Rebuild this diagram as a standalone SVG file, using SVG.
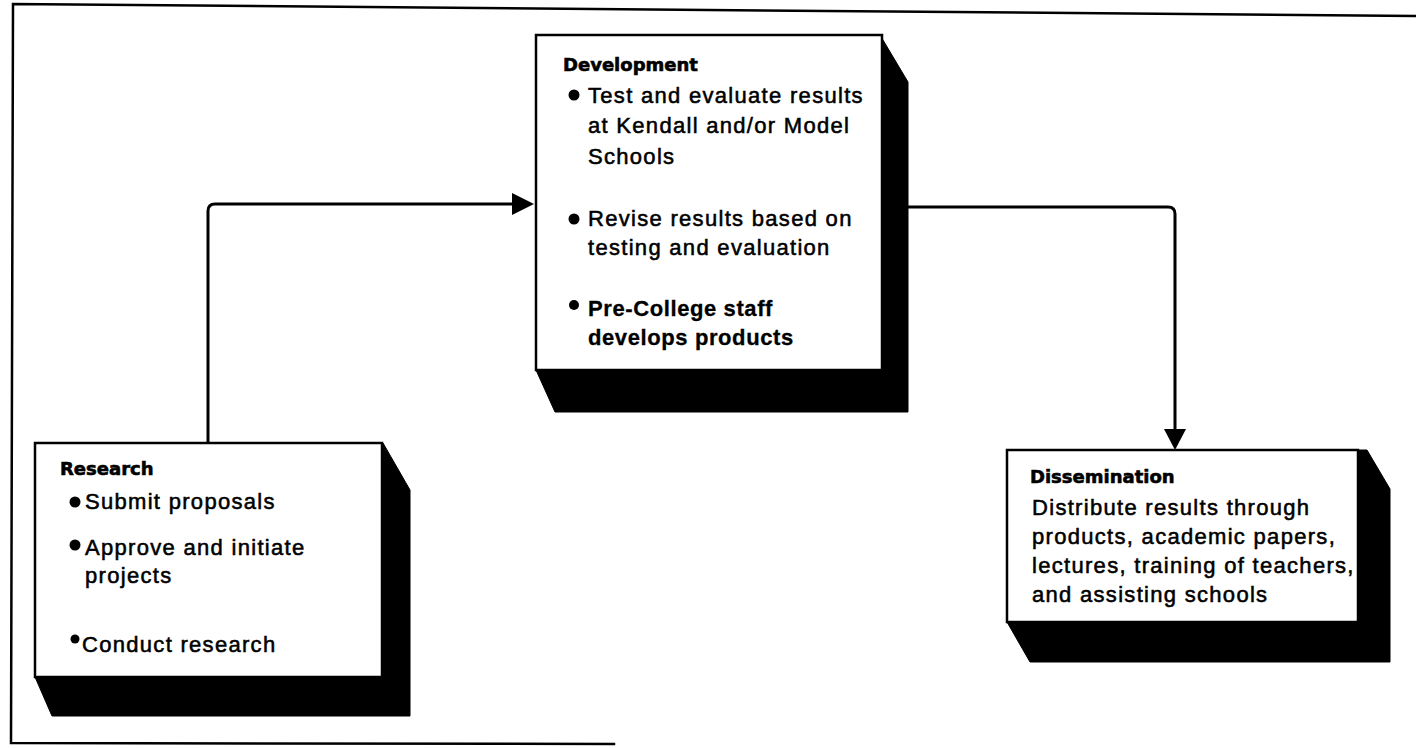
<svg xmlns="http://www.w3.org/2000/svg" width="1416" height="748" viewBox="0 0 1416 748">
  <defs>
    <style>
      .frame { fill: none; stroke: #000; stroke-width: 2.5; stroke-linecap: square; }
      .face { fill: #fff; stroke: #000; stroke-width: 2.5; }
      .side { fill: #000; stroke: #000; stroke-width: 1; stroke-linejoin: round; }
      .wire { fill: none; stroke: #000; stroke-width: 3; }
      .head { fill: #000; }
      .title { font-family: "DejaVu Sans", "Liberation Sans", sans-serif; font-weight: bold; font-size: 18px; fill: #000; stroke: #000; stroke-width: 0.6; }
      .body { font-family: "Liberation Sans", Arial, sans-serif; font-size: 22px; letter-spacing: 1.3px; fill: #000; stroke: #000; stroke-width: 0.55; }
      .bold { font-weight: bold; stroke-width: 0.3; letter-spacing: 0.6px; }
      .dot { fill: #000; }
    </style>
  </defs>

  <rect width="1416" height="748" fill="#fff"/>

  <!-- outer frame (open on the lower right) -->
  <path class="frame" d="M1416,16 L13,4 L11,743 L614,744"/>

  <!-- connectors -->
  <g id="connectors">
    <path class="wire" d="M208,443 V211 Q208,204 215,204 H515"/>
    <polygon class="head" points="512,193 534,204 512,215"/>
    <path class="wire" d="M908,207 H1168 Q1175,207 1175,214 V432"/>
    <polygon class="head" points="1164,429 1175,450 1186,429"/>
  </g>

  <!-- Development -->
  <g id="development">
    <polygon class="side" points="880,35 908,82 908,412 555,412 536,370"/>
    <rect class="face" x="536" y="35" width="346" height="335"/>
    <text class="title" x="563" y="71">Development</text>
    <circle class="dot" cx="574" cy="95" r="5.5"/>
    <text class="body" x="588" y="103">Test and evaluate results</text>
    <text class="body" x="588" y="133">at Kendall and/or Model</text>
    <text class="body" x="588" y="164">Schools</text>
    <circle class="dot" cx="574" cy="219" r="5.5"/>
    <text class="body" x="588" y="226">Revise results based on</text>
    <text class="body" x="588" y="255">testing and evaluation</text>
    <circle class="dot" cx="574" cy="305" r="5"/>
    <text class="body bold" x="588" y="316">Pre-College staff</text>
    <text class="body bold" x="588" y="345">develops products</text>
  </g>

  <!-- Research -->
  <g id="research">
    <polygon class="side" points="383,443 410,490 410,716 52,716 35,677"/>
    <rect class="face" x="35" y="443" width="347" height="234"/>
    <text class="title" x="60" y="475">Research</text>
    <circle class="dot" cx="75" cy="502" r="5.5"/>
    <text class="body" x="85" y="509">Submit proposals</text>
    <circle class="dot" cx="75" cy="545" r="5.5"/>
    <text class="body" x="85" y="555">Approve and initiate</text>
    <text class="body" x="85" y="583">projects</text>
    <circle class="dot" cx="75" cy="639" r="4.5"/>
    <text class="body" x="82" y="652">Conduct research</text>
  </g>

  <!-- Dissemination -->
  <g id="dissemination">
    <polygon class="side" points="1358,450 1367,450 1390,489 1390,662 1030,662 1007,622"/>
    <rect class="face" x="1007" y="450" width="351" height="172"/>
    <text class="title" x="1030" y="483">Dissemination</text>
    <text class="body" x="1032" y="515">Distribute results through</text>
    <text class="body" x="1032" y="544">products, academic papers,</text>
    <text class="body" x="1032" y="573">lectures, training of teachers,</text>
    <text class="body" x="1032" y="602">and assisting schools</text>
  </g>
</svg>
